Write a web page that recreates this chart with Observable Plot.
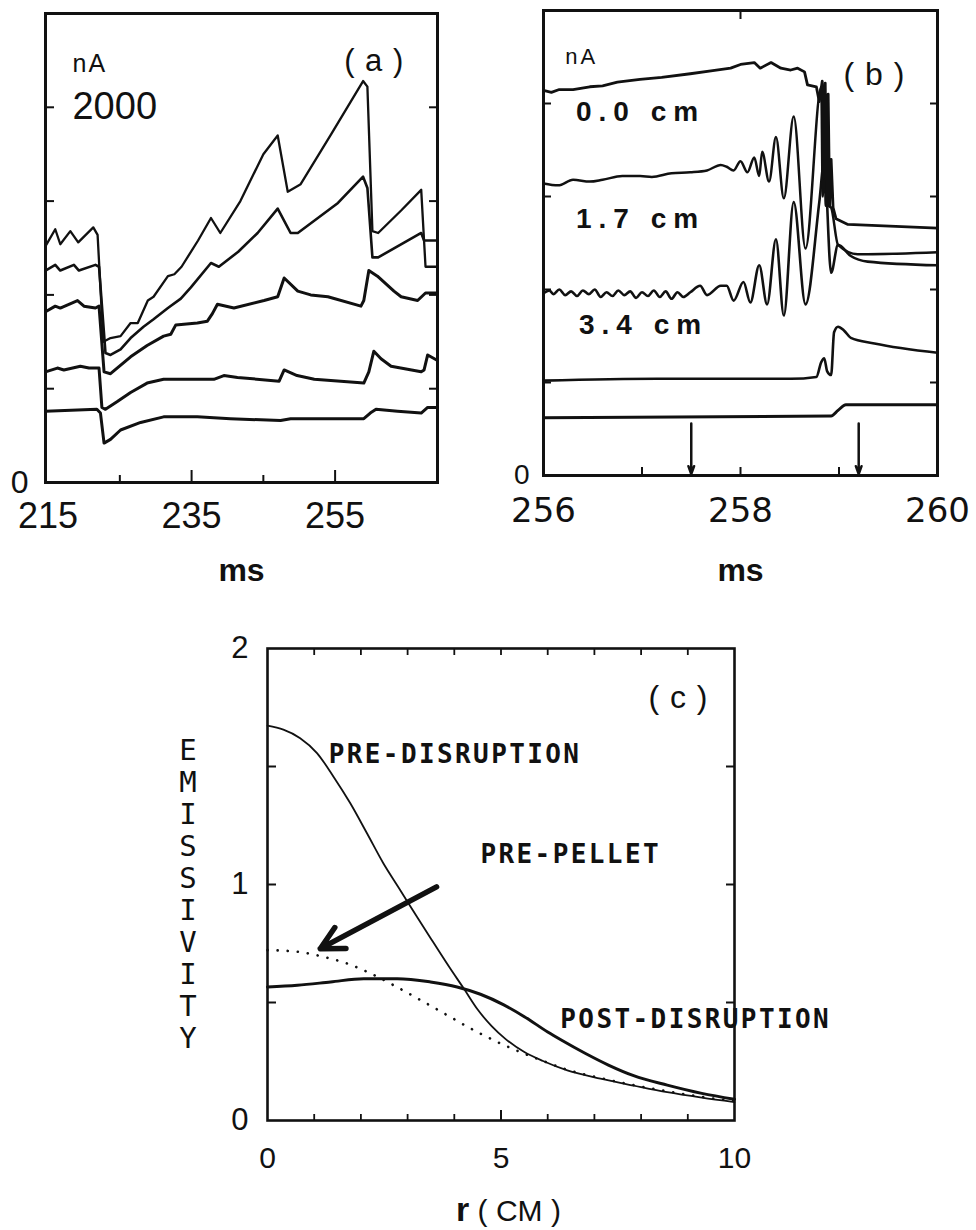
<!DOCTYPE html>
<html>
<head>
<meta charset="utf-8">
<script src="https://cdn.jsdelivr.net/npm/d3@7"></script>
<script src="https://cdn.jsdelivr.net/npm/@observablehq/plot@0.6"></script>
<style>
  html, body { margin: 0; padding: 0; background: #fff; }
  #fig { position: relative; width: 976px; height: 1230px; overflow: hidden; background: #fff; color: #111;
         font-family: "Liberation Sans", Arial, sans-serif; }
  #fig svg { position: absolute; overflow: visible; }
  .ylab { position: absolute; left: 173px; top: 734px; width: 30px; text-align: center;
          font-family: "DejaVu Sans Mono", monospace; font-size: 29px; }
  .ylab div { line-height: 32px; height: 32px; }
  .xlab { position: absolute; left: 456px; top: 1194px; font-size: 30px; white-space: pre; line-height: 30px; }
  .xlab b { font-size: 34px; font-weight: 900; }
</style>
</head>
<body>
<div id="fig"></div>
<script>
// ---------------- Panel (a): time (ms) vs signal (nA), five chords ----------------
const aTimeDomain = [214.64, 269.27];
const aSignalDomain = [0, 2500];
const aTrace1 = [[214.64,1260],[216.0,1350],[216.7,1270],[218.1,1340],[219.2,1280],[221.3,1360],[221.9,1320],[222.7,750],[223.7,770],[225.1,780],[226.5,850],[227.5,850],[228.9,970],[229.7,990],[231.7,1100],[232.6,1110],[233.6,1150],[235.9,1290],[237.7,1410],[239.0,1330],[241.8,1500],[245.0,1750],[247.0,1850],[248.4,1550],[250.2,1590],[254.5,1860],[258.9,2140],[259.5,2110],[260.2,1340],[261.0,1330],[264.2,1450],[267.0,1560],[267.6,1150],[269.27,1150]];
const aTrace2 = [[214.64,1130],[216.0,1160],[216.7,1130],[218.6,1160],[219.3,1130],[221.6,1160],[222.1,1150],[223.0,690],[223.7,680],[225.1,710],[226.5,770],[228.3,830],[229.7,870],[231.7,930],[233.5,980],[234.9,1040],[237.7,1170],[238.8,1150],[241.5,1230],[244.2,1330],[247.0,1460],[248.8,1330],[249.8,1330],[255.4,1490],[258.9,1630],[259.5,1570],[260.2,1200],[261.0,1200],[267.0,1330],[267.4,1290],[269.27,1290]];
const aTrace3 = [[214.64,910],[216.0,940],[216.7,930],[219.1,970],[220.0,940],[221.6,930],[222.1,940],[222.8,590],[223.7,580],[226.5,670],[228.8,730],[231.1,780],[232.1,790],[232.8,840],[235.8,850],[237.2,860],[237.9,900],[238.6,950],[240.9,930],[245.1,970],[247.0,990],[247.9,1090],[249.8,1020],[251.6,1000],[254.0,990],[258.6,940],[259.0,970],[259.7,1130],[260.9,1100],[263.2,1020],[264.2,990],[266.5,970],[267.6,1010],[269.27,1010]];
const aTrace4 = [[214.64,590],[216.3,610],[217.2,600],[219.5,620],[220.7,610],[222.1,610],[222.5,400],[223.0,390],[224.6,430],[226.5,480],[228.8,530],[231.1,550],[238.1,550],[239.5,570],[241.4,560],[247.2,540],[247.9,600],[249.7,570],[252.1,550],[259.0,530],[259.7,590],[260.4,700],[261.4,660],[262.8,620],[267.0,590],[267.4,600],[267.9,680],[269.27,650]];
const aTrace5 = [[214.64,380],[221.8,390],[222.3,370],[222.8,210],[223.7,230],[225.1,280],[227.9,320],[231.1,350],[235.8,350],[240.4,340],[247.4,330],[248.8,340],[252.1,340],[259.0,340],[259.9,370],[260.7,390],[263.7,380],[267.0,370],[267.9,400],[269.27,400]];
const aTickLabelsX = [215, 235, 255];
const aTickMajorX = [235, 255];
const aTickMinorX = [225, 245];
const aTicksY = [500, 1000, 1500, 2000];
const aZeroY = [0];
const aUnit = [{text: "nA", t: 218.4, v: 2186}];
const aScaleLabel = [{text: "2000", t: 218.4, v: 2000}];
const aPanel = [{text: "( a )", t: 260.45, v: 2245}];

// ---------------- Panel (b): time (ms) vs signal (nA) around the disruption ----------------
const bTimeDomain = [256, 260];
const bSignalDomain = [0, 2500];
const bTrace00 = [[256.0,2070],[256.08,2060],[256.16,2075],[256.3,2075],[256.47,2090],[256.6,2095],[256.75,2115],[256.98,2130],[257.2,2140],[257.49,2160],[257.7,2175],[257.9,2190],[258.0,2210],[258.14,2220],[258.2,2190],[258.31,2220],[258.41,2190],[258.51,2180],[258.58,2190],[258.65,2170],[258.68,2100],[258.77,2090],[258.8,2010],[258.83,2120],[258.845,1600],[258.86,2110],[258.875,1500],[258.89,2050],[258.905,1450],[258.92,1700],[258.94,1440],[258.97,1380],[259.09,1350],[260.0,1330]];
const bTrace17 = [[256.0,1570],[256.15,1560],[256.3,1590],[256.47,1580],[256.6,1590],[256.8,1610],[256.98,1610],[257.1,1605],[257.3,1625],[257.49,1630],[257.66,1640],[257.8,1670],[257.86,1660],[257.93,1640],[258.0,1690],[258.07,1630],[258.14,1710],[258.19,1610],[258.22,1740],[258.29,1580],[258.36,1820],[258.44,1490],[258.54,1930],[258.66,1220],[258.82,2090],[258.835,1500],[258.85,2100],[258.865,1450],[258.88,2050],[258.895,1450],[258.92,1440],[258.99,1240],[259.19,1190],[259.29,1190],[260.0,1200]];
const bTrace34 = [[256.0,980],[256.06,995],[256.1,975],[256.16,1000],[256.22,970],[256.28,990],[256.34,965],[256.4,995],[256.46,975],[256.52,1000],[256.58,960],[256.64,985],[256.7,965],[256.76,995],[256.82,970],[256.88,990],[256.94,955],[257.0,985],[257.06,965],[257.12,995],[257.18,960],[257.24,990],[257.3,950],[257.36,985],[257.42,960],[257.49,985],[257.59,1020],[257.66,970],[257.8,1020],[257.86,1020],[257.93,940],[258.03,1040],[258.1,930],[258.19,1130],[258.27,920],[258.36,1270],[258.44,860],[258.54,1470],[258.66,920],[258.8,1470],[258.85,1690],[258.92,1090],[258.99,1240],[259.12,1180],[259.29,1150],[260.0,1130]];
const bTraceD = [[256.0,510],[257.15,520],[258.51,520],[258.77,530],[258.82,610],[258.85,630],[258.88,560],[258.92,540],[258.95,770],[258.99,800],[259.05,780],[259.12,740],[259.36,710],[260.0,660]];
const bTraceE = [[256.0,310],[258.92,320],[258.99,350],[259.07,380],[260.0,380]];
const bArrowTimes = [257.5, 259.2];
const bArrowFrom = 280, bArrowTo = 8;
const bTickLabelsX = [256, 258, 260];
const bTicksX = [257, 258, 259];
const bTicksTop = [258];
const bTicksY = [500, 1000, 1500, 2000];
const bZeroY = [0];
const bCmLabels = [{text: "0.0 cm", t: 256.33, v: 1908}, {text: "1.7 cm", t: 256.33, v: 1333}, {text: "3.4 cm", t: 256.36, v: 763}];
const bUnit = [{text: "nA", t: 256.22, v: 2215}];
const bPanel = [{text: "( b )", t: 259.36, v: 2156}];

// ---------------- Panel (c): emissivity profiles vs r (cm) ----------------
const cRDomain = [0, 10];
const cEmDomain = [0, 2];
const cPreDisruption = [[0,1.673],[0.34,1.656],[0.7,1.62],[1.06,1.557],[1.41,1.458],[1.77,1.345],[2.13,1.217],[2.48,1.09],[2.84,0.977],[3.2,0.863],[3.55,0.755],[3.91,0.645],[4.2,0.56],[4.5,0.47],[4.8,0.4],[5.1,0.345],[5.5,0.29],[5.9,0.252],[6.42,0.212],[7.13,0.177],[7.84,0.148],[8.56,0.12],[9.3,0.097],[10,0.078]];
const cPostDisruption = [[0,0.566],[0.64,0.573],[1.35,0.587],[2.06,0.601],[2.78,0.601],[3.49,0.587],[4.06,0.566],[4.56,0.535],[5.06,0.49],[5.5,0.44],[6.0,0.375],[6.3,0.34],[6.8,0.285],[7.3,0.235],[7.84,0.19],[8.56,0.15],[9.3,0.115],[10,0.09]];
const cPrePellet = [[0,0.722],[0.64,0.715],[1.21,0.693],[1.71,0.665],[2.21,0.623],[2.7,0.573],[3.28,0.51],[3.85,0.446],[4.49,0.375],[5.06,0.32],[5.5,0.283],[6.0,0.245],[6.42,0.215],[7.13,0.18],[7.84,0.15],[8.56,0.124],[9.3,0.1],[10,0.082]];
const cArrow = [{r1: 3.62, e1: 0.99, r2: 1.13, e2: 0.728}];
const cTickLabelsX = [0, 5, 10];
const cTicksX = [1, 2, 3, 4, 6, 7, 8, 9];
const cTickMajorX = [5];
const cTickLabelsY = [0, 1, 2];
const cTicksY = [0.5, 1, 1.5];
const cCurveLabels = [{text: "PRE-DISRUPTION", r: 1.31, e: 1.513}, {text: "PRE-PELLET", r: 4.56, e: 1.093}, {text: "POST-DISRUPTION", r: 6.27, e: 0.39}];
const cPanel = [{text: "( c )", r: 8.8, e: 1.79}];
const yTitle = "EMISSIVITY";

// ---------------- drawing ----------------
const ink = "#111";
const fig = document.getElementById("fig");
const sans = "'Liberation Sans', Arial, sans-serif";
const dejavu = "'DejaVu Sans', sans-serif";
const mono = "'DejaVu Sans Mono', monospace";
const px = d => d[0], py = d => d[1];
const plain = d => String(d);

function place(svg, left, top) {
  svg.style.left = left + "px";
  svg.style.top = top + "px";
  fig.appendChild(svg);
}
function spacing(svg, map) {
  d3.select(svg).selectAll("text").each(function () {
    const s = map[this.textContent];
    if (s != null) this.setAttribute("letter-spacing", s);
  });
}
const blank = () => "";

// Panel (a)
const plotA = Plot.plot({
  width: 480, height: 600,
  marginLeft: 45, marginRight: 43, marginTop: 13, marginBottom: 118,
  x: {domain: aTimeDomain},
  y: {domain: aSignalDomain},
  style: {fontFamily: sans, color: ink, background: "transparent", overflow: "visible"},
  marks: [
    Plot.axisX(aTickMinorX, {anchor: "bottom", tickSize: -7, tickFormat: blank, strokeWidth: 2, label: null}),
    Plot.axisX(aTickMajorX, {anchor: "bottom", tickSize: -12, tickFormat: blank, strokeWidth: 2, label: null}),
    Plot.axisX(aTickLabelsX, {anchor: "bottom", tickSize: 0, tickPadding: 20, fontSize: 36, tickFormat: plain, label: null}),
    Plot.axisY(aTicksY, {anchor: "left", tickSize: -9, tickFormat: blank, strokeWidth: 2, label: null}),
    Plot.axisY(aTicksY, {anchor: "right", tickSize: -9, tickFormat: blank, strokeWidth: 2, label: null}),
    Plot.axisY(aZeroY, {anchor: "left", tickSize: 0, tickPadding: 17, fontSize: 32, tickFormat: plain, label: null}),
    Plot.frame({stroke: ink, strokeWidth: 3}),
    Plot.line(aTrace5, {x: px, y: py, stroke: ink, strokeWidth: 3, strokeLinejoin: "round"}),
    Plot.line(aTrace4, {x: px, y: py, stroke: ink, strokeWidth: 3, strokeLinejoin: "round"}),
    Plot.line(aTrace3, {x: px, y: py, stroke: ink, strokeWidth: 3, strokeLinejoin: "round"}),
    Plot.line(aTrace2, {x: px, y: py, stroke: ink, strokeWidth: 2.6, strokeLinejoin: "round"}),
    Plot.line(aTrace1, {x: px, y: py, stroke: ink, strokeWidth: 2.3, strokeLinejoin: "round"}),
    Plot.text(aUnit, {x: "t", y: "v", text: "text", textAnchor: "start", lineAnchor: "bottom", fontSize: 25}),
    Plot.text(aScaleLabel, {x: "t", y: "v", text: "text", textAnchor: "start", lineAnchor: "middle", fontSize: 38}),
    Plot.text(aPanel, {x: "t", y: "v", text: "text", textAnchor: "middle", lineAnchor: "middle", fontSize: 31}),
    Plot.text(["ms"], {frameAnchor: "bottom", dy: 88, fontSize: 32, fontWeight: "bold", lineAnchor: "middle"})
  ]
});
spacing(plotA, {"nA": 2, "( a )": 1});
place(plotA, 0, 0);

// Panel (b)
const plotB = Plot.plot({
  width: 486, height: 600,
  marginLeft: 53, marginRight: 39, marginTop: 10, marginBottom: 125,
  x: {domain: bTimeDomain},
  y: {domain: bSignalDomain},
  style: {fontFamily: sans, color: ink, background: "transparent", overflow: "visible"},
  marks: [
    Plot.axisX(bTicksX, {anchor: "bottom", tickSize: -8, tickFormat: blank, strokeWidth: 2, label: null}),
    Plot.axisX(bTicksTop, {anchor: "top", tickSize: -8, tickFormat: blank, strokeWidth: 2, label: null}),
    Plot.axisX(bTickLabelsX, {anchor: "bottom", tickSize: 0, tickPadding: 22, fontSize: 34, fontFamily: dejavu, tickFormat: plain, label: null}),
    Plot.axisY(bTicksY, {anchor: "left", tickSize: -8, tickFormat: blank, strokeWidth: 2, label: null}),
    Plot.axisY(bTicksY, {anchor: "right", tickSize: -8, tickFormat: blank, strokeWidth: 2, label: null}),
    Plot.axisY(bZeroY, {anchor: "left", tickSize: 0, tickPadding: 14, fontSize: 28, tickFormat: plain, label: null}),
    Plot.frame({stroke: ink, strokeWidth: 3}),
    Plot.line(bTraceE, {x: px, y: py, stroke: ink, strokeWidth: 3, curve: "monotone-x"}),
    Plot.line(bTraceD, {x: px, y: py, stroke: ink, strokeWidth: 2.6, curve: "monotone-x"}),
    Plot.line(bTrace34, {x: px, y: py, stroke: ink, strokeWidth: 2.6, curve: "monotone-x"}),
    Plot.line(bTrace17, {x: px, y: py, stroke: ink, strokeWidth: 2.5, curve: "monotone-x"}),
    Plot.line(bTrace00, {x: px, y: py, stroke: ink, strokeWidth: 2.8, strokeLinejoin: "round"}),
    Plot.arrow(bArrowTimes, {x1: d => d, x2: d => d, y1: bArrowFrom, y2: bArrowTo, stroke: ink, strokeWidth: 2.5, headLength: 5, headAngle: 40}),
    Plot.text(bCmLabels, {x: "t", y: "v", text: "text", textAnchor: "start", lineAnchor: "bottom", fontSize: 28, fontWeight: "bold"}),
    Plot.text(bUnit, {x: "t", y: "v", text: "text", textAnchor: "start", lineAnchor: "bottom", fontSize: 22}),
    Plot.text(bPanel, {x: "t", y: "v", text: "text", textAnchor: "middle", lineAnchor: "middle", fontSize: 32}),
    Plot.text(["ms"], {frameAnchor: "bottom", dy: 95, fontSize: 32, fontWeight: "bold", lineAnchor: "middle"})
  ]
});
spacing(plotB, {"0.0 cm": 7, "1.7 cm": 7, "3.4 cm": 7, "nA": 3, "( b )": 1});
place(plotB, 490, 0);

// Panel (c)
const plotC = Plot.plot({
  width: 720, height: 630,
  marginLeft: 117, marginRight: 136, marginTop: 48, marginBottom: 110,
  x: {domain: cRDomain},
  y: {domain: cEmDomain},
  style: {fontFamily: sans, color: ink, background: "transparent", overflow: "visible"},
  marks: [
    Plot.axisX(cTicksX, {anchor: "bottom", tickSize: -6, tickFormat: blank, strokeWidth: 1.8, label: null}),
    Plot.axisX(cTickMajorX, {anchor: "bottom", tickSize: -10, tickFormat: blank, strokeWidth: 2, label: null}),
    Plot.axisX(cTicksX.concat(cTickMajorX), {anchor: "top", tickSize: -6, tickFormat: blank, strokeWidth: 1.8, label: null}),
    Plot.axisX(cTickLabelsX, {anchor: "bottom", tickSize: 0, tickPadding: 26, fontSize: 30, tickFormat: plain, label: null}),
    Plot.axisY(cTicksY, {anchor: "left", tickSize: -9, tickFormat: blank, strokeWidth: 2, label: null}),
    Plot.axisY(cTicksY, {anchor: "right", tickSize: -9, tickFormat: blank, strokeWidth: 2, label: null}),
    Plot.axisY(cTickLabelsY, {anchor: "left", tickSize: 0, tickPadding: 19, fontSize: 31, tickFormat: plain, label: null}),
    Plot.frame({stroke: ink, strokeWidth: 2.6}),
    Plot.line(cPrePellet, {x: px, y: py, stroke: ink, strokeWidth: 2.6, strokeDasharray: "0.1,10", strokeLinecap: "round", curve: "monotone-x"}),
    Plot.line(cPreDisruption, {x: px, y: py, stroke: ink, strokeWidth: 1.8, curve: "monotone-x"}),
    Plot.line(cPostDisruption, {x: px, y: py, stroke: ink, strokeWidth: 3, curve: "monotone-x"}),
    Plot.arrow(cArrow, {x1: "r1", y1: "e1", x2: "r2", y2: "e2", stroke: ink, strokeWidth: 5.5, headLength: 7, headAngle: 55}),
    Plot.text(cCurveLabels, {x: "r", y: "e", text: "text", textAnchor: "start", lineAnchor: "bottom", fontSize: 26, fontFamily: mono, fontWeight: "bold"}),
    Plot.text(cPanel, {x: "r", y: "e", text: "text", textAnchor: "middle", lineAnchor: "middle", fontSize: 32})
  ]
});
spacing(plotC, {"PRE-DISRUPTION": 2.4, "PRE-PELLET": 2.4, "POST-DISRUPTION": 2.4, "( c )": 1});
place(plotC, 150, 600);

// axis titles of panel (c)
const yl = document.createElement("div");
yl.className = "ylab";
for (const ch of yTitle) {
  const d = document.createElement("div");
  d.textContent = ch;
  yl.appendChild(d);
}
fig.appendChild(yl);

const xl = document.createElement("div");
xl.className = "xlab";
xl.innerHTML = "<b>r</b> ( CM )";
fig.appendChild(xl);
</script>
</body>
</html>
